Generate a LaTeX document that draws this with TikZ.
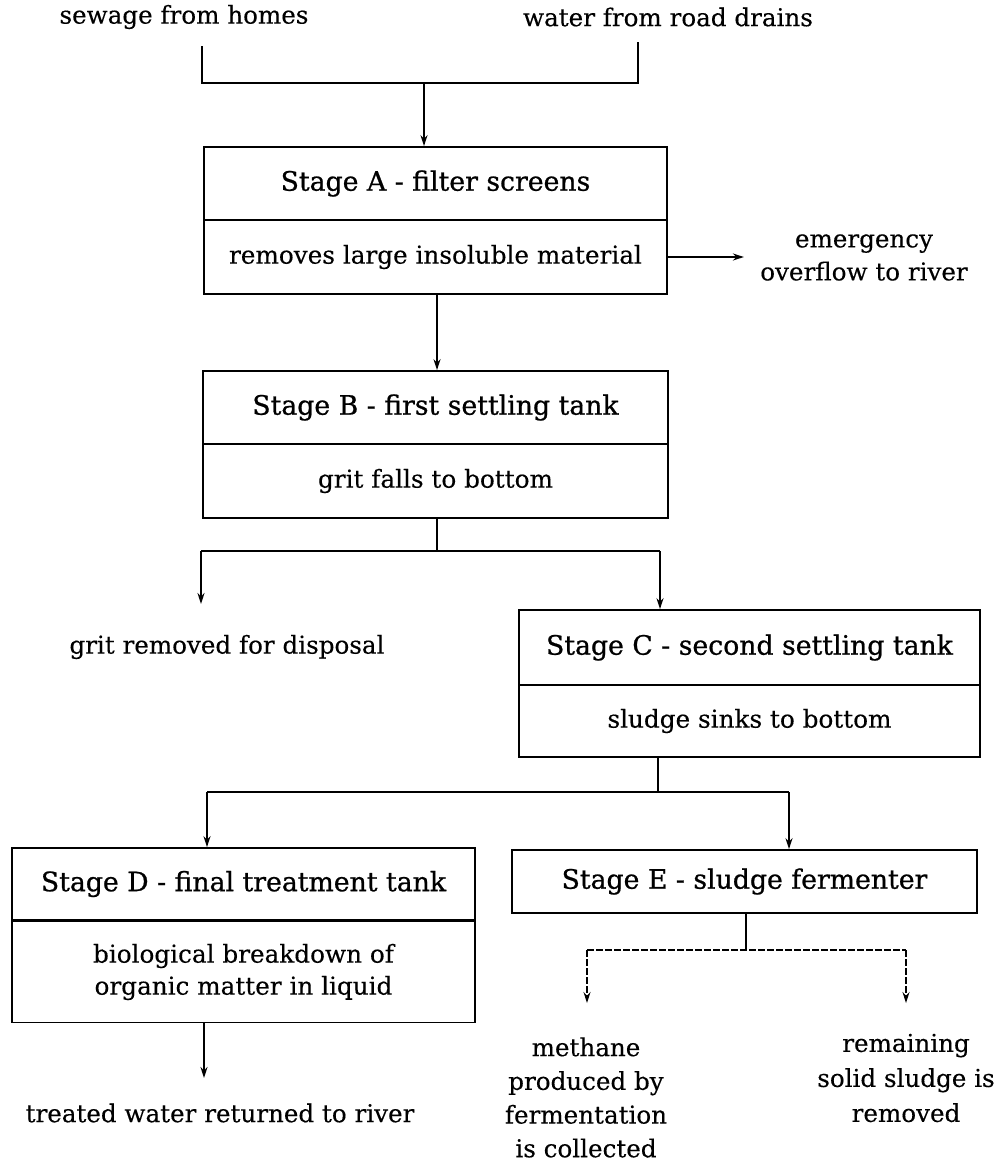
\documentclass[tikz,border=0pt]{standalone}
\usepackage{fontspec}
\setmainfont{DejaVu Serif}[FakeBold=0.25]
\newfontfamily\tfont{DejaVu Serif}[FakeBold=0.8]
\usetikzlibrary{arrows.meta}
\begin{document}
\begin{tikzpicture}[x=1pt,y=-1pt,
  every node/.style={font=\fontsize{24.7}{32}\selectfont, inner sep=0pt, align=center},
  cell/.style={draw, line width=1.8pt, minimum width=#1, inner sep=0pt},
  lbl/.style={font=\fontsize{24.6}{33}\selectfont},
  ttl/.style={font=\fontsize{26.7}{32}\selectfont\tfont},
  conn/.style={line width=1.8pt},
  arr/.style={line width=1.8pt, -{Stealth[length=11pt,width=7pt]}},
  thinarr/.style={line width=1.1pt, dash pattern=on 7pt off 2pt, -{Stealth[length=11pt,width=7pt]}},
  thin/.style={line width=1.1pt, dash pattern=on 7pt off 2pt}]
\useasboundingbox (0,0) rectangle (995,1162);
\fill[white] (0,0) rectangle (995,1162);

% top sources
\node[lbl] (sew) at (184,17) {sewage from homes};
\node[lbl] (wat) at (668,17) {water from road drains};

% Stage A
\node[cell=463pt, minimum height=73pt, ttl] (At) at (435.5,183.5) {Stage A - filter screens};
\node[cell=463pt, minimum height=74pt] (Ab) at (435.5,257) {removes large insoluble material};
\node[lbl] (emerg) at (864,257.5) {emergency\\overflow to river};

% Stage B
\node[cell=465pt, minimum height=73pt, ttl] (Bt) at (435.5,407.5) {Stage B - first settling tank};
\node[cell=465pt, minimum height=74pt] (Bb) at (435.5,481) {grit falls to bottom};
\node[lbl] (grit) at (227,647) {grit removed for disposal};

% Stage C
\node[cell=461pt, minimum height=75pt, ttl] (Ct) at (749.5,647.5) {Stage C - second settling tank};
\node[cell=461pt, minimum height=72pt] (Cb) at (749.5,721) {sludge sinks to bottom};

% Stage D
\node[cell=463pt, minimum height=72pt, ttl] (Dt) at (243.5,884) {Stage D - final treatment tank};
\node[cell=463pt, minimum height=101pt] (Db) at (243.5,972) {biological breakdown of\\organic matter in liquid};
\node[lbl] (treated) at (220,1113) {treated water returned to river};

% Stage E
\node[cell=465pt, minimum height=63pt, ttl] (Et) at (744.5,881.5) {Stage E - sludge fermenter};
\node[lbl, font=\fontsize{24.6}{33.7}\selectfont] (meth) at (586,1097.5) {methane\\produced by\\fermentation\\is collected};
\node[lbl, font=\fontsize{24.6}{35}\selectfont] (rem) at (906,1078) {remaining\\solid sludge is\\removed};

% junction coordinates
\coordinate (sL) at (202,46);
\coordinate (sR) at (638,42);
\coordinate (jA) at (424,83);
\coordinate (bj) at (437,551);
\coordinate (bjL) at (201,551);
\coordinate (bjR) at (660,551);
\coordinate (gritTip) at (201,604);
\coordinate (cj) at (658,792);
\coordinate (cjL) at (207,792);
\coordinate (cjR) at (789,792);
\coordinate (dTip) at (204,1078);
\coordinate (ej) at (746,950);
\coordinate (ejL) at (587,950);
\coordinate (ejR) at (906,950);
\coordinate (mTip) at (587,1003);
\coordinate (rTip) at (906,1003);

% top bracket
\draw[conn] (sL) |- (jA) -| (sR);
\draw[arr] (jA) -- (jA |- At.north);

% A to B and overflow
\draw[arr] (Ab.south -| bj) -- (Bt.north -| bj);
\draw[arr] (Ab.east) -- ++(76,0);

% B branch
\draw[conn] (Bb.south -| bj) -- (bj);
\draw[conn] (bjL) -- (bjR);
\draw[arr] (bjL) -- (gritTip);
\draw[arr] (bjR) -- (bjR |- Ct.north);

% C branch
\draw[conn] (Cb.south -| cj) -- (cj);
\draw[conn] (cjL) -- (cjR);
\draw[arr] (cjL) -- (cjL |- Dt.north);
\draw[arr] (cjR) -- (cjR |- Et.north);

% D out
\draw[arr] (Db.south -| dTip) -- (dTip);

% E branch
\draw[conn] (Et.south -| ej) -- (ej);
\draw[thin] (ejL) -- (ejR);
\draw[thinarr] (ejL) -- (mTip);
\draw[thinarr] (ejR) -- (rTip);
\end{tikzpicture}
\end{document}
